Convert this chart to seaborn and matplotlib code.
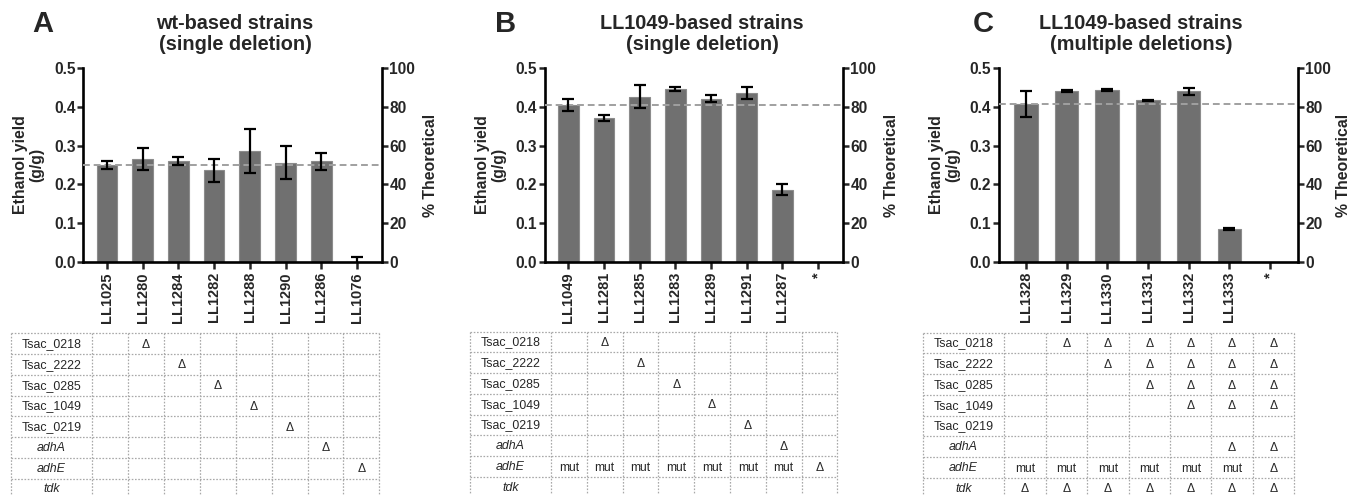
import numpy as np
import pandas as pd
import matplotlib
matplotlib.use("Agg")
import matplotlib.pyplot as plt
import seaborn as sns

# ---- data ----
strains_a = ["LL1025", "LL1280", "LL1284", "LL1282", "LL1288", "LL1290", "LL1286", "LL1076"]
yield_a = [0.250, 0.265, 0.260, 0.236, 0.286, 0.256, 0.260, 0.001]
err_a = [0.011, 0.029, 0.011, 0.029, 0.057, 0.043, 0.022, 0.012]
ref_a = 0.250

strains_b = ["LL1049", "LL1281", "LL1285", "LL1283", "LL1289", "LL1291", "LL1287", "*"]
yield_b = [0.405, 0.371, 0.426, 0.445, 0.420, 0.435, 0.187, np.nan]
err_b = [0.015, 0.008, 0.030, 0.005, 0.009, 0.015, 0.015, np.nan]
ref_b = 0.404

strains_c = ["LL1328", "LL1329", "LL1330", "LL1331", "LL1332", "LL1333", "*"]
yield_c = [0.406, 0.440, 0.442, 0.416, 0.440, 0.085, np.nan]
err_c = [0.033, 0.002, 0.003, 0.002, 0.009, 0.003, np.nan]
ref_c = 0.406

titles = ["wt-based strains\n(single deletion)",
          "LL1049-based strains\n(single deletion)",
          "LL1049-based strains\n(multiple deletions)"]
letters = ["A", "B", "C"]

genes = ["Tsac_0218", "Tsac_2222", "Tsac_0285", "Tsac_1049", "Tsac_0219", "adhA", "adhE", "tdk"]
italic_genes = ["adhA", "adhE", "tdk"]
D = "\u0394"

table_a = [
    ["", D, "", "", "", "", "", ""],
    ["", "", D, "", "", "", "", ""],
    ["", "", "", D, "", "", "", ""],
    ["", "", "", "", D, "", "", ""],
    ["", "", "", "", "", D, "", ""],
    ["", "", "", "", "", "", D, ""],
    ["", "", "", "", "", "", "", D],
    ["", "", "", "", "", "", "", ""],
]
table_b = [
    ["", D, "", "", "", "", "", ""],
    ["", "", D, "", "", "", "", ""],
    ["", "", "", D, "", "", "", ""],
    ["", "", "", "", D, "", "", ""],
    ["", "", "", "", "", D, "", ""],
    ["", "", "", "", "", "", D, ""],
    ["mut", "mut", "mut", "mut", "mut", "mut", "mut", D],
    ["", "", "", "", "", "", "", ""],
]
table_c = [
    ["", D, D, D, D, D, D],
    ["", "", D, D, D, D, D],
    ["", "", "", D, D, D, D],
    ["", "", "", "", D, D, D],
    ["", "", "", "", "", "", ""],
    ["", "", "", "", "", D, D],
    ["mut", "mut", "mut", "mut", "mut", "mut", D],
    [D, D, D, D, D, D, D],
]

# ---- style ----
sns.set_style("ticks")
plt.rcParams['font.family'] = ['Liberation Sans', 'DejaVu Sans']

W, H = 1351, 495
fig = plt.figure(figsize=(W / 100, H / 100), dpi=100)


def px_axes(l, t, r, b):
    return fig.add_axes([l / W, 1 - b / H, (r - l) / W, (b - t) / H])


bar_color = "#707070"
panels = [
    dict(strains=strains_a, y=yield_a, e=err_a, ref=ref_a, table=table_a,
         ax=(83.3, 67.7, 381.7, 262.3), xl=(-0.66, 7.69), rpad=5.5,
         tab=(11, 333.3, 379.3), lab_w=81.3, title_x=235, let_x=43),
    dict(strains=strains_b, y=yield_b, e=err_b, ref=ref_b, table=table_b,
         ax=(545, 67.7, 842.7, 262.3), xl=(-0.65, 7.69), rpad=5.5,
         tab=(470, 331.7, 837.3), lab_w=81.0, title_x=702, let_x=506),
    dict(strains=strains_c, y=yield_c, e=err_c, ref=ref_c, table=table_c,
         ax=(999, 67.7, 1297.7, 262.3), xl=(-0.66, 6.68), rpad=3.5,
         tab=(922.7, 332.7, 1294.3), lab_w=81.6, title_x=1141, let_x=983),
]

row_h = 20.75
grid_kw = dict(color="#a8a8a8", lw=0.9, linestyle=(0, (1.3, 1.3)), clip_on=False)

for i, p in enumerate(panels):
    ax = px_axes(*p["ax"])
    df = pd.DataFrame({"strain": p["strains"], "yield": p["y"]})
    sns.barplot(data=df, x="strain", y="yield", order=p["strains"], color=bar_color,
                width=0.58, errorbar=None, edgecolor="#8c8c8c", linewidth=0.8,
                saturation=1, ax=ax)
    pos = np.arange(len(p["strains"]))
    ok = ~np.isnan(np.array(p["e"], dtype=float))
    ax.errorbar(pos[ok], np.array(p["y"])[ok], yerr=np.array(p["e"])[ok], fmt="none",
                ecolor="black", elinewidth=1.6, capsize=4, capthick=1.6, zorder=4)
    ax.axhline(p["ref"], color="#a0a0a0", lw=1.4, linestyle=(0, (3.5, 2)), zorder=3)
    ax.set_xlim(*p["xl"])
    ax.set_ylim(0, 0.5)
    ax.set_yticks(np.arange(0, 0.51, 0.1))
    ax.set_yticklabels([f"{v:.1f}" for v in np.arange(0, 0.51, 0.1)])
    ax.set_xlabel("")
    ax.set_ylabel("Ethanol yield\n(g/g)", fontsize=11.4, fontweight="bold", labelpad=7,
                  linespacing=1.1)
    ax.tick_params(axis="x", rotation=90, labelsize=10.5, width=1.8, length=5, pad=2)
    ax.tick_params(axis="y", labelsize=11.2, width=1.8, length=4.5, pad=1)
    for lab in ax.get_xticklabels() + ax.get_yticklabels():
        lab.set_fontweight("bold")
    for s in ["left", "bottom"]:
        ax.spines[s].set_linewidth(1.9)
        ax.spines[s].set_color("black")
    ax.spines["top"].set_visible(False)
    ax.spines["right"].set_visible(False)

    ax2 = ax.twinx()
    ax2.set_ylim(0, 100)
    ax2.set_yticks(np.arange(0, 101, 20))
    ax2.tick_params(axis="y", labelsize=11.2, width=1.8, length=4.5, pad=1)
    for lab in ax2.get_yticklabels():
        lab.set_fontweight("bold")
    ax2.set_ylabel("% Theoretical", fontsize=11.4, fontweight="bold", labelpad=p["rpad"])
    for s in ["top", "left", "bottom"]:
        ax2.spines[s].set_visible(False)
    ax2.spines["right"].set_linewidth(1.9)
    ax2.spines["right"].set_color("black")
    ax2.grid(False)

    fig.text(p["title_x"] / W, 1 - 34 / H, titles[i], ha="center", va="center",
             fontsize=14.3, fontweight="bold", linespacing=1.15)
    fig.text(p["let_x"] / W, 1 - 24 / H, letters[i], ha="center", va="center",
             fontsize=21, fontweight="bold")

    # ---- deletion table ----
    tl, tt, tr = p["tab"]
    nrow = len(genes)
    ncol = len(p["strains"])
    tax = px_axes(tl, tt, tr, tt + nrow * row_h)
    tot = tr - tl
    lw_ = p["lab_w"]
    cw = (tot - lw_) / ncol
    tax.set_xlim(0, tot)
    tax.set_ylim(nrow, 0)
    tax.axis("off")
    for r in range(nrow + 1):
        tax.hlines(r, 0, tot, **grid_kw)
    xs = [0] + [lw_ + k * cw for k in range(ncol + 1)]
    for x in xs:
        tax.vlines(x, 0, nrow, **grid_kw)
    for r, g in enumerate(genes):
        tax.text(lw_ / 2, r + 0.52, g, ha="center", va="center", fontsize=8.9,
                 style="italic" if g in italic_genes else "normal", clip_on=False)
        for c, val in enumerate(p["table"][r]):
            if val:
                tax.text(lw_ + (c + 0.5) * cw, r + 0.55, val, ha="center", va="center",
                         fontsize=8.7, clip_on=False)

fig.savefig("out.png", dpi=100)
